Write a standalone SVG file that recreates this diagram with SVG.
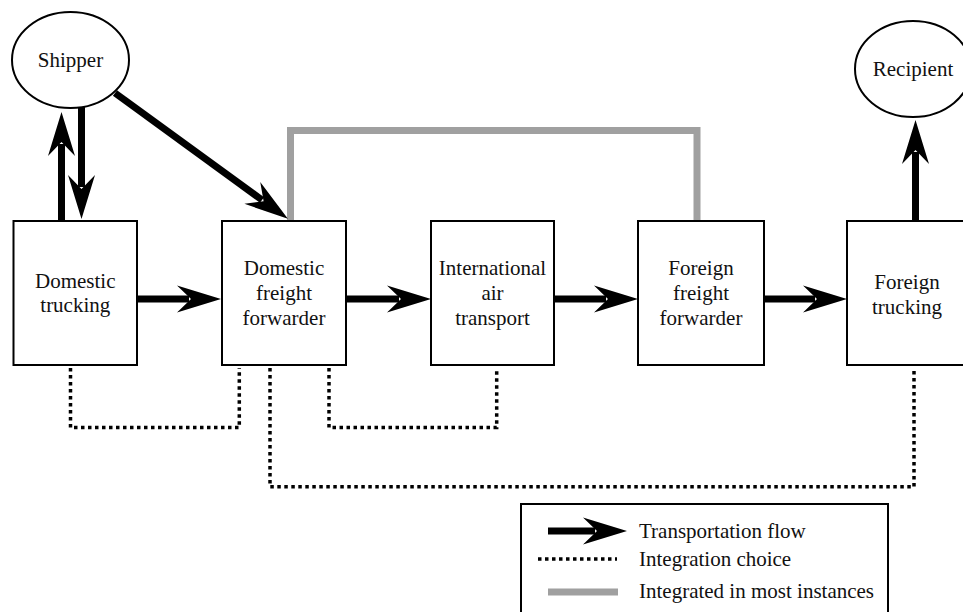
<svg xmlns="http://www.w3.org/2000/svg" width="963" height="612" viewBox="0 0 963 612">
<style>
.node{fill:#fff;stroke:#000;stroke-width:2}
text{font-family:'Liberation Serif','DejaVu Serif',serif;font-size:21px;fill:#111}
.t{text-anchor:middle}
.flow{fill:none;stroke:#000;stroke-width:7;marker-end:url(#ah)}
.dot{fill:none;stroke:#000;stroke-width:3.5;stroke-dasharray:3.5 3.5}
.gray{fill:none;stroke:#a0a0a0;stroke-width:7}
</style>
<defs>
<marker id="ah" markerUnits="userSpaceOnUse" markerWidth="46" markerHeight="30" viewBox="0 -15 46 30" refX="12" refY="0" orient="auto" overflow="visible">
<path d="M0,-13.5 L44,0 L0,13.5 L14,0 Z" fill="#000"/>
</marker>
</defs>
<rect width="963" height="612" fill="#fff"/>
<g id="connectors">
<path class="gray" d="M290.5,221 V130.5 H697 V221"/>
<line class="flow" x1="137" y1="299" x2="189" y2="299"/>
<line class="flow" x1="346" y1="299" x2="399" y2="299"/>
<line class="flow" x1="554" y1="299" x2="606" y2="299"/>
<line class="flow" x1="764" y1="299" x2="815" y2="299"/>
<line class="flow" x1="61.5" y1="221" x2="61.5" y2="144"/>
<line class="flow" x1="81.5" y1="106" x2="81.5" y2="187"/>
<line class="flow" x1="115" y1="93" x2="262" y2="200"/>
<line class="flow" x1="915.5" y1="221" x2="915.5" y2="152"/>
<path class="dot" d="M70.5,368 V427.5 H239.3 V368"/>
<path class="dot" d="M329,368 V427.5 H496.7 V368"/>
<path class="dot" d="M270,368 V486.7 H914 V368"/>
</g>
<g id="shipper">
<ellipse class="node" cx="70.5" cy="60" rx="58.5" ry="48"/>
<text class="t" x="70.5" y="67" font-family="Liberation Serif, serif">Shipper</text>
</g>
<g id="recipient">
<ellipse class="node" cx="913" cy="69" rx="58" ry="48"/>
<text class="t" x="913" y="76" font-family="Liberation Serif, serif">Recipient</text>
</g>
<g id="domestic-trucking">
<rect class="node" x="13.5" y="221" width="123.5" height="144"/>
<text class="t" x="75.3" y="288">Domestic</text>
<text class="t" x="75.3" y="312">trucking</text>
</g>
<g id="domestic-freight-forwarder">
<rect class="node" x="222" y="221" width="124" height="144"/>
<text class="t" x="284" y="275">Domestic</text>
<text class="t" x="284" y="300">freight</text>
<text class="t" x="284" y="325">forwarder</text>
</g>
<g id="international-air-transport">
<rect class="node" x="431" y="221" width="123" height="144"/>
<text class="t" x="492.5" y="275">International</text>
<text class="t" x="492.5" y="300">air</text>
<text class="t" x="492.5" y="325">transport</text>
</g>
<g id="foreign-freight-forwarder">
<rect class="node" x="638" y="221" width="126" height="144"/>
<text class="t" x="701" y="275">Foreign</text>
<text class="t" x="701" y="300">freight</text>
<text class="t" x="701" y="325">forwarder</text>
</g>
<g id="foreign-trucking">
<rect class="node" x="847" y="221" width="124" height="144"/>
<text class="t" x="907" y="289">Foreign</text>
<text class="t" x="907" y="314">trucking</text>
</g>
<g id="legend">
<rect class="node" x="521" y="504" width="367" height="120"/>
<line class="flow" x1="548" y1="531" x2="595" y2="531"/>
<text x="639" y="538">Transportation flow</text>
<line class="dot" x1="538" y1="559" x2="617" y2="559"/>
<text x="639" y="566">Integration choice</text>
<line class="gray" x1="548" y1="592" x2="618" y2="592"/>
<text x="639" y="598">Integrated in most instances</text>
</g>
</svg>
